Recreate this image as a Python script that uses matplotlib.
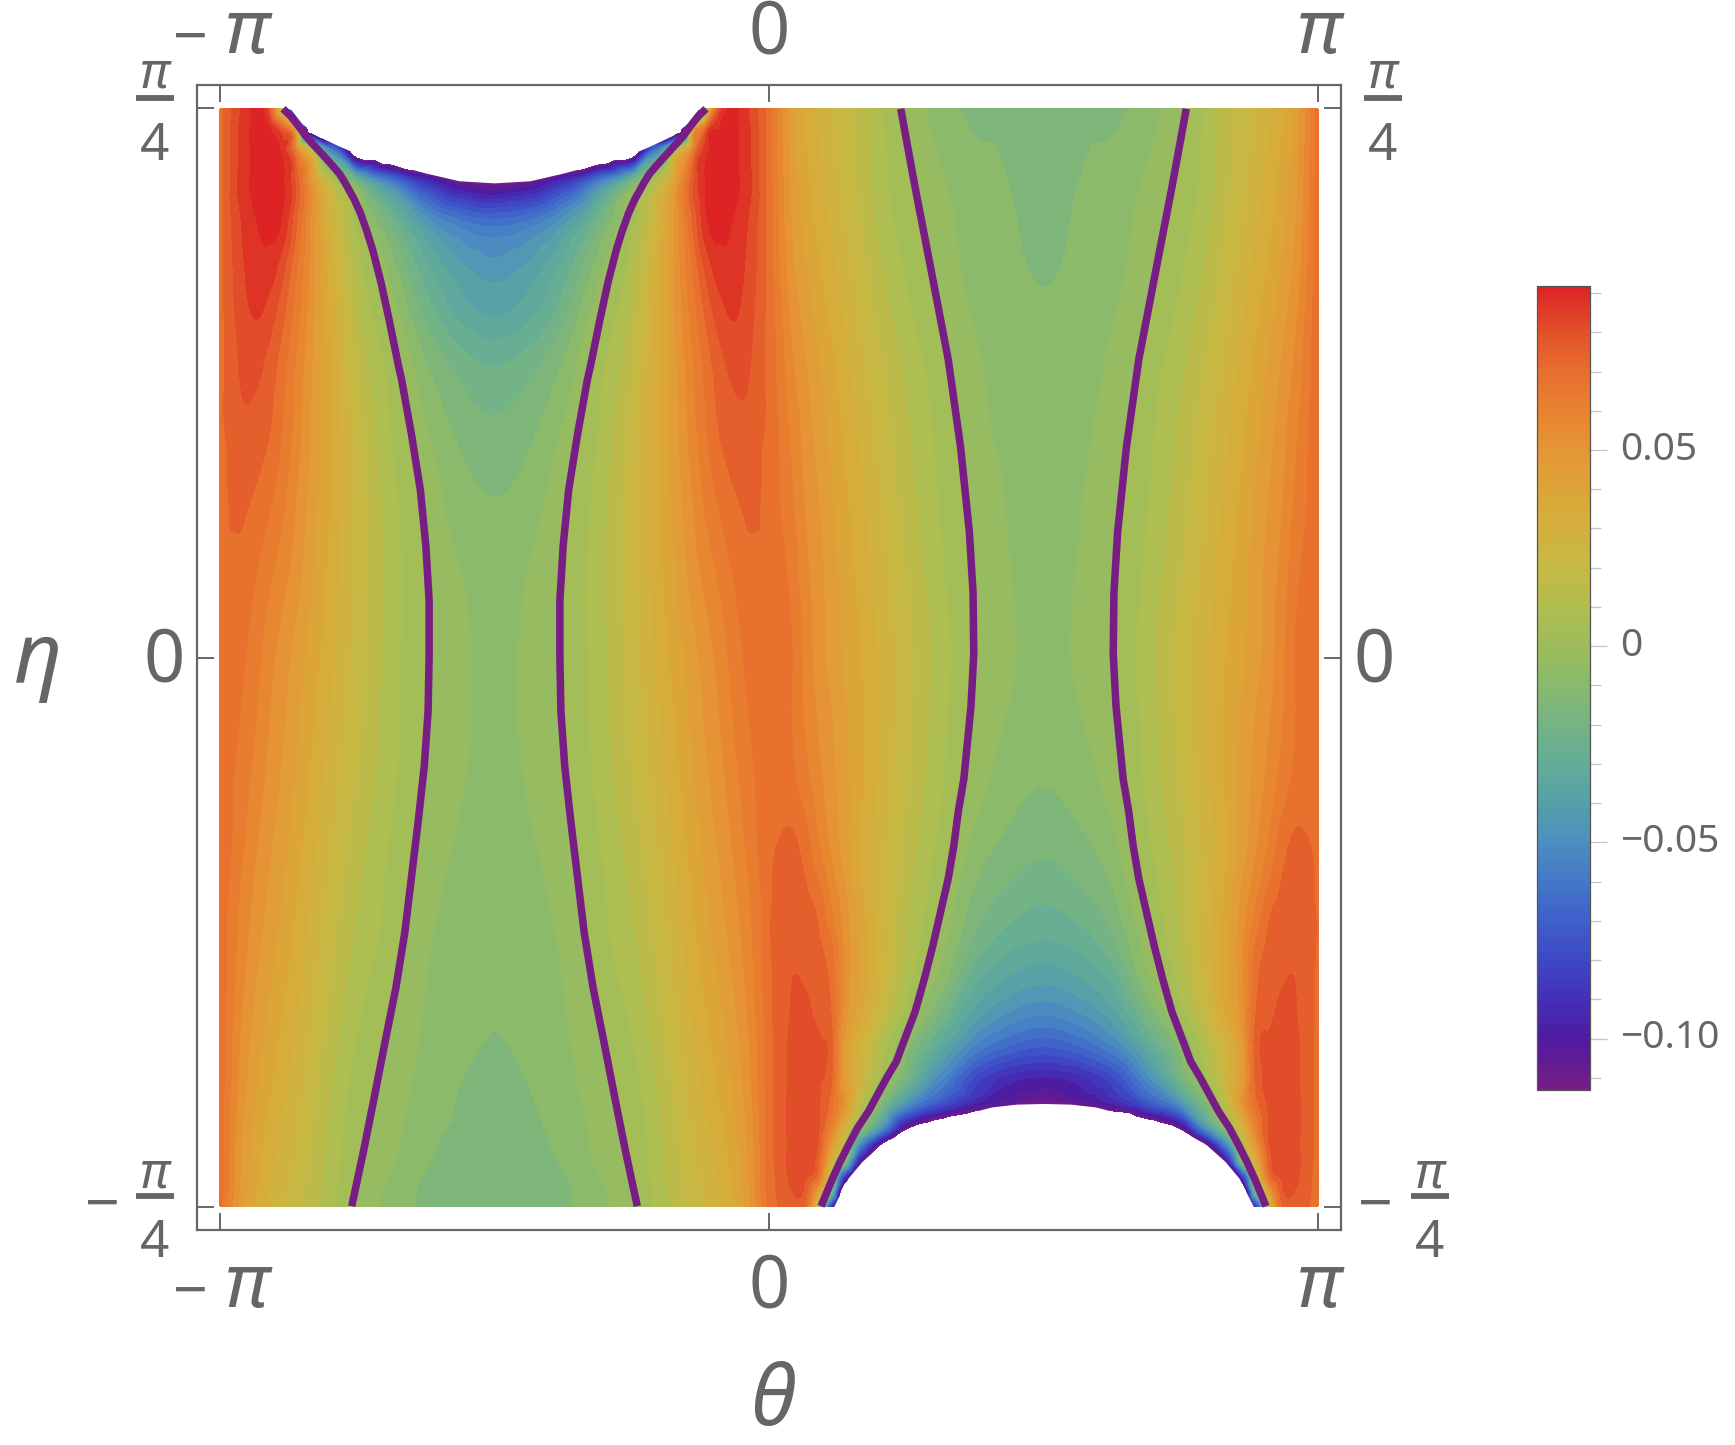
import numpy as np
import matplotlib
matplotlib.use("Agg")
import matplotlib.pyplot as plt
from matplotlib.cm import ScalarMappable
from matplotlib.colors import LinearSegmentedColormap, Normalize
from matplotlib.lines import Line2D
from matplotlib.tri import Triangulation, UniformTriRefiner, CubicTriInterpolator

W, H = 1735, 1445
GRAY = "#666666"
FONT = "Noto Sans"

# distance in theta from the centre of each half (-pi/2 and pi/2)
theta_offsets = np.array([0, 0.196, 0.393, 0.589, 0.785, 0.918, 1.045, 1.140, 1.216, 1.292, 1.362, 1.444, np.pi / 2])

# left half, values x 1000, centre column first
left_eta = np.array([0.785, 0.759, 0.727, 0.679, 0.624, 0.561, 0.498, 0.419, 0.324, 0.229, 0.119, 0.0,
                     -0.119, -0.229, -0.324, -0.419, -0.498, -0.561, -0.624, -0.679, -0.727, -0.759, -0.785])
left_values = np.array([
    [-160, -160, -160, -160, -160, -160, -160, -160, 8, 80, 91.5, 85, 69],
    [-160, -160, -160, -160, -160, -160, -160, 27, 72, 90.5, 91.5, 86, 69.5],
    [-160, -160, -160, -160, -143, -65, 8, 62, 88, 91.5, 91.5, 86, 69.5],
    [-113.5, -107, -88, -56, -18, 9, 48, 78, 91, 91.5, 91.5, 87, 69.5],
    [-64, -59, -45, -22, 2, 24, 51, 74, 89.5, 91.5, 90, 84.5, 69.5],
    [-46, -41, -29, -10, 9, 29, 51, 68, 81, 88, 87.5, 83, 70],
    [-37.5, -33, -21, -3, 13, 31, 50, 64, 74.5, 82, 85, 81.5, 70],
    [-24.5, -20.5, -11.5, 3, 17, 33, 48, 60, 69, 76, 79.5, 79, 70],
    [-16.5, -13.5, -5.5, 5.5, 20.5, 34, 47, 58, 66, 72.5, 75.5, 76.5, 70.5],
    [-12, -9.5, -1.5, 8, 22, 34, 45, 54.5, 62, 67.5, 71, 73, 71],
    [-8.7, -5.8, 0, 9, 22, 32, 42.5, 51, 56.5, 61.5, 66, 70.5, 71],
    [-7.5, -4.7, 0.5, 8.5, 21, 30, 39, 46, 51, 56.5, 62, 67, 71],
    [-8, -4.8, 0, 8, 19, 27, 36, 43, 48.5, 53.5, 59, 64.5, 71],
    [-9.3, -6.2, -1.5, 6, 16, 24, 33, 40, 45.5, 50.5, 55.5, 62, 71],
    [-10, -7.7, -3.5, 4, 13, 21, 30, 37, 42.5, 47.5, 52.5, 59, 70.5],
    [-11, -9, -5.3, 3, 10, 18, 27, 34, 39.5, 44.5, 49.5, 56.5, 70],
    [-11.7, -10, -6.4, 0.3, 7.5, 15.5, 24.5, 31.5, 36.5, 41.5, 46.5, 54, 70],
    [-12.3, -11, -7.3, -1.8, 5, 13, 22, 29, 34, 39, 44, 52, 70],
    [-13, -12.2, -8.5, -3, 3, 10.8, 20, 26.5, 31.5, 36.5, 42, 50, 69.5],
    [-13.5, -12.8, -10.5, -4.2, 1.4, 9, 18, 24.5, 29, 34, 39.5, 48, 69.5],
    [-13.8, -13.2, -11.7, -5.5, 0.5, 8, 16.5, 23, 27, 32, 37.5, 46.5, 69.5],
    [-14, -13.5, -13, -7.5, -0.6, 7, 15.5, 21.5, 25.5, 30.5, 36, 45.5, 69.5],
    [-14, -14, -13, -8, -1.2, 6.3, 15, 21, 24.3, 29, 34.5, 44, 69],
])

# right half, same columns
right_eta = np.array([0.785, 0.656, 0.529, 0.403, 0.277, 0.150, 0.0, -0.087, -0.174, -0.269, -0.363, -0.411,
                      -0.458, -0.507, -0.555, -0.602, -0.640, -0.672, -0.697, -0.722, -0.744, -0.766, -0.785])
right_values = np.array([
    [-14, -13.5, -13.5, -9, -1.5, 6, 15, 21, 24.3, 29, 34.5, 44, 69],
    [-13.3, -11.8, -9, -4.5, 2, 8, 17, 23, 28, 33, 38.5, 47, 69.5],
    [-12, -10.7, -7.5, -2, 6, 13, 21.5, 28, 33, 38, 43.5, 51, 70],
    [-10.5, -9, -4.5, 2.5, 11, 18.5, 26, 32.5, 38, 43.5, 49, 56, 70.5],
    [-9.5, -7, -3, 4.5, 14, 22, 30, 36, 41.5, 47, 52, 60, 71],
    [-8.5, -6, -1.5, 6.5, 17, 25, 33, 39, 44.5, 50, 55, 63.5, 71],
    [-7.7, -5.3, -0.3, 9, 20.5, 28, 36, 41, 46, 51, 58, 66.5, 71],
    [-8.5, -6.5, -1.5, 8, 20, 28, 37, 43, 48.5, 53.5, 59, 66, 71],
    [-11.5, -9.2, -3, 7, 18.5, 27.5, 37, 44, 50, 56, 62, 67.5, 71],
    [-16.7, -14, -8, 4, 16, 25, 35, 45, 53, 61, 69, 73.5, 71],
    [-25, -22, -15, 0, 13, 25, 38, 51, 61, 71, 74.5, 75.5, 71.5],
    [-31, -28.5, -20, -3.5, 12, 26, 40, 53, 67, 73.5, 76, 76.5, 71.5],
    [-40, -36.5, -28, -8, 9, 24, 40, 53, 70, 75.5, 77.5, 77.8, 71],
    [-52.6, -48, -38, -18, 3.5, 19, 37, 52, 72, 76.5, 79, 78.2, 70.5],
    [-71, -66, -54, -33, -9.5, 9, 28, 47, 75, 79, 80, 79, 70],
    [-97, -93, -80, -52, -20, 2, 25, 45, 73.5, 79, 80, 79, 70],
    [-113.5, -109, -98, -78, -50, -18, 14, 50, 69, 79, 80.5, 79.5, 70],
    [-160, -160, -160, -135, -108, -50, -5, 30, 60, 79, 80.5, 79.5, 70],
    [-160, -160, -160, -160, -160, -120, -55, 12, 48, 78, 80.5, 79, 70],
    [-160, -160, -160, -160, -160, -160, -108, -12, 30, 74, 80, 79.5, 69.5],
    [-160, -160, -160, -160, -160, -160, -160, -88, 6, 68, 79, 79, 69],
    [-160, -160, -160, -160, -160, -160, -160, -150, -20, 40, 75, 77.5, 68.5],
    [-160, -160, -160, -160, -160, -160, -160, -160, -88, 18, 70, 76, 68],
])

# zero lines
left_zero_eta = np.array([0.785, 0.774, 0.758, 0.747, 0.736, 0.719, 0.703, 0.692, 0.679, 0.656, 0.635, 0.608, 0.583,
                          0.536, 0.482, 0.419, 0.398, 0.319, 0.239, 0.160, 0.081, 0.002, -0.077, -0.156, -0.235,
                          -0.314, -0.393, -0.472, -0.551, -0.624, -0.703, -0.785])
left_zero_offset = np.array([1.210, 1.165, 1.115, 1.083, 1.045, 0.982, 0.925, 0.887, 0.855, 0.804, 0.766, 0.728, 0.697,
                             0.649, 0.602, 0.551, 0.532, 0.475, 0.424, 0.393, 0.374, 0.374, 0.380, 0.402, 0.437,
                             0.475, 0.513, 0.564, 0.627, 0.684, 0.747, 0.817])
right_zero_eta = np.array([0.785, 0.673, 0.550, 0.426, 0.302, 0.179, 0.092, 0.005, -0.070, -0.174, -0.221, -0.269,
                           -0.316, -0.364, -0.412, -0.459, -0.507, -0.555, -0.578, -0.602, -0.649, -0.673, -0.697,
                           -0.722, -0.745, -0.785])
right_zero_offset = np.array([0.817, 0.735, 0.640, 0.545, 0.475, 0.424, 0.403, 0.399, 0.415, 0.456, 0.488, 0.513,
                              0.545, 0.589, 0.633, 0.681, 0.735, 0.808, 0.842, 0.899, 1.001, 1.064, 1.115,
                              1.165, 1.207, 1.273])

# edges of the two white holes
top_hole_offset = np.array([1.184, 1.165, 1.102, 1.020, 0.884, 0.741, 0.557, 0.393, 0.203, 0.0])
top_hole_eta = np.array([0.785, 0.784, 0.764, 0.747, 0.731, 0.716, 0.704, 0.693, 0.682, 0.679])
bottom_hole_offset = np.array([1.200, 1.119, 1.039, 0.931, 0.766, 0.541, 0.298, 0.158, 0.0])
bottom_hole_eta = np.array([-0.785, -0.745, -0.721, -0.697, -0.673, -0.659, -0.643, -0.639, -0.638])

bar_values = [-0.1131, -0.10, -0.09, -0.08, -0.07, -0.06, -0.05, -0.04, -0.03, -0.02, -0.01, 0.0,
              0.01, 0.02, 0.03, 0.04, 0.05, 0.06, 0.07, 0.08, 0.09, 0.0918]
bar_colors = ["#781C86", "#4E1BA0", "#4330B8", "#3F48C4", "#3F60CB", "#4378C8", "#4D8EBF", "#56A0A8",
              "#63AC98", "#75B384", "#88BA6E", "#9CBC5A", "#B0BE50", "#C6B944", "#D3B03D", "#DCA538",
              "#E59635", "#E8832F", "#E8702E", "#E3522A", "#DD2B25", "#DD2323"]

vmin, vmax = bar_values[0], bar_values[-1]
cmap = LinearSegmentedColormap.from_list(
    "rainbow_like", [((v - vmin) / (vmax - vmin), c) for v, c in zip(bar_values, bar_colors)])
norm = Normalize(vmin, vmax)
levels = np.concatenate([[vmin], np.arange(-18, 16) * 0.006, [0.0925]])

fig = plt.figure(figsize=(W / 100, H / 100), dpi=100)


def px_rect(x0, y0, x1, y1):
    return [x0 / W, 1 - y1 / H, (x1 - x0) / W, (y1 - y0) / H]


def label(x, y, s, size, style="normal", ha="center"):
    fig.text(x / W, 1 - y / H, s, fontsize=size, color=GRAY, ha=ha, va="baseline",
             fontstyle=style, family=[FONT, "DejaVu Sans"])


def fraction(x, y_rule, pi_base, four_base):
    fig.add_artist(Line2D([(x - 19) / W, (x + 19) / W], [1 - y_rule / H] * 2, color=GRAY, lw=4.2,
                          solid_capstyle="butt"))
    label(x, pi_base, "π", 36, "italic")
    label(x, four_base, "4", 37)


def draw_half(ax, centre, rows, table):
    # each half is mirrored about its centre column
    th = np.concatenate([centre - theta_offsets[::-1], centre + theta_offsets[1:]])
    vals = np.hstack([table[:, ::-1], table[:, 1:]]) / 1000.0
    x, y = np.meshgrid(th, rows)
    tri = Triangulation(x.ravel(), y.ravel())
    interp = CubicTriInterpolator(tri, vals.ravel(), kind="geom")
    fine, z = UniformTriRefiner(tri).refine_field(vals.ravel(), interp, subdiv=3)
    ax.tricontourf(fine, np.minimum(z, 0.0915), levels=levels, cmap=cmap, norm=norm, antialiased=False)


def blank_hole(ax, centre, offsets, etas, far_eta):
    xs = np.concatenate([centre - offsets, centre + offsets[-2::-1]])
    ys = np.concatenate([etas, etas[-2::-1]])
    ax.fill_between(xs, ys, far_eta, color="white", lw=0, zorder=2)


ax = fig.add_axes(px_rect(197, 85, 1341, 1230))
draw_half(ax, -np.pi / 2, left_eta, left_values)
draw_half(ax, np.pi / 2, right_eta, right_values)
blank_hole(ax, -np.pi / 2, top_hole_offset, top_hole_eta, 0.80)
blank_hole(ax, np.pi / 2, bottom_hole_offset, bottom_hole_eta, -0.80)
for sign in (-1, 1):
    ax.plot(-np.pi / 2 + sign * left_zero_offset, left_zero_eta, color="#781C86", lw=5.4,
            solid_capstyle="butt", zorder=3)
    ax.plot(np.pi / 2 + sign * right_zero_offset, right_zero_eta, color="#781C86", lw=5.4,
            solid_capstyle="butt", zorder=3)

ax.set_xlim(-np.pi - 0.1316, np.pi + 0.1316)
ax.set_ylim(-np.pi / 4 - 0.0336, np.pi / 4 + 0.0336)
ax.set_xticks([-np.pi, 0, np.pi])
ax.set_yticks([-np.pi / 4, 0, np.pi / 4])
ax.tick_params(direction="in", top=True, right=True, length=12, width=1.4, color=GRAY,
               labelbottom=False, labelleft=False)
for spine in ax.spines.values():
    spine.set_color(GRAY)
    spine.set_linewidth(1.6)

# tick labels, top and bottom
for base in (53, 1307):
    label(190, base + 4, "−", 44)
    label(247, base, "π", 54, "italic")
    label(769, base, "0", 52)
    label(1319, base, "π", 54, "italic")

# tick labels, left and right
label(164, 682, "0", 52)
label(1374, 682, "0", 52)
fraction(155, 98, 88, 160)
fraction(1383, 98, 88, 160)
fraction(155, 1196, 1187, 1257)
fraction(1430, 1196, 1187, 1257)
label(102, 1224, "−", 44)
label(1375, 1224, "−", 44)

label(772, 1425, "θ", 60, "italic")
label(38, 683, "η", 60, "italic")

# colour bar
cax = fig.add_axes(px_rect(1537, 286, 1590, 1090))
cb = fig.colorbar(ScalarMappable(norm=norm, cmap=cmap), cax=cax)
cb.set_ticks([-0.10, -0.05, 0, 0.05])
cb.set_ticklabels([])
cb.ax.set_yticks(np.arange(-11, 10) * 0.01, minor=True)
cb.ax.tick_params(which="major", length=12, width=0.9, color="#c4c4c4", right=True)
cb.ax.tick_params(which="minor", length=8, width=0.9, color="#c4c4c4", right=True)
cb.outline.set_edgecolor("#555555")
cb.outline.set_linewidth(0.9)
for value, text in zip([0.05, 0, -0.05, -0.10], ["0.05", "0", "−0.05", "−0.10"]):
    y_px = 646 - value / 0.05 * 196
    label(1620, y_px + 10, text, 28, ha="left")

fig.savefig("out.png", dpi=100)
